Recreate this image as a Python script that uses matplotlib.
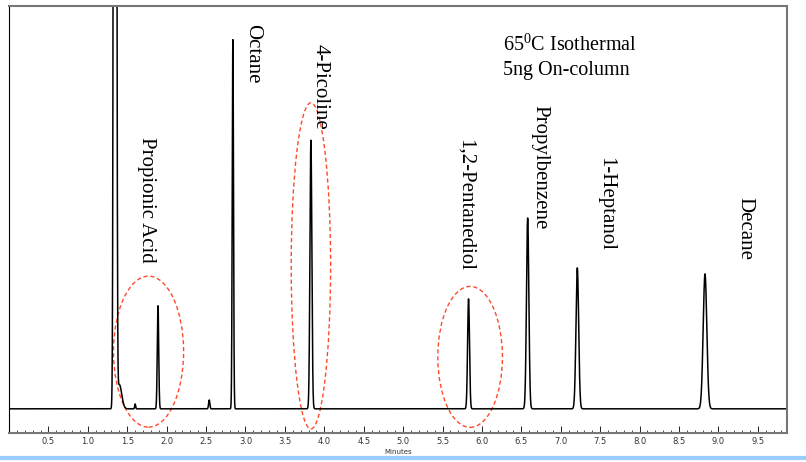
import numpy as np
import matplotlib.pyplot as plt
from matplotlib.patches import Ellipse
from matplotlib.ticker import MultipleLocator

plt.rcParams["mathtext.fontset"] = "custom"
plt.rcParams["mathtext.rm"] = "Liberation Serif"

# peak table: retention time (min), height, width (sigma, min)
rt = [1.345, 1.40, 1.60, 1.89, 2.54, 2.84, 3.83, 5.83, 6.58, 7.21, 8.83]
height = [1000, 6, 1.2, 25.6, 2.2, 91.8, 66.7, 27.3, 47.4, 35.0, 33.5]
sigma = [0.012, 0.03, 0.006, 0.009, 0.008, 0.008, 0.012, 0.012, 0.015, 0.017, 0.023]

names = ["Propionic Acid", "Octane", "4-Picoline", "1,2-Pentanediol",
         "Propylbenzene", "1-Heptanol", "Decane"]
name_x = [1.74, 3.09, 3.95, 5.79, 6.73, 7.57, 9.33]
name_y = [67.5, 95.5, 90.5, 67, 75.5, 62.5, 52.5]

# circled peaks: centre x, centre y, width, height
ell_x = [1.77, 3.83, 5.85]
ell_y = [14.2, 35.5, 12.9]
ell_w = [0.89, 0.50, 0.82]
ell_h = [37.5, 81, 35]

t = np.linspace(0, 9.87, 8000)
signal = np.zeros_like(t)
for r, h, s in zip(rt, height, sigma):
    signal += h * np.exp(-0.5 * ((t - r) / s) ** 2)

fig = plt.figure(figsize=(8.06, 4.62), dpi=100)
ax = fig.add_axes([0.0112, 0.0628, 0.9652, 0.924])
ax.plot(t, signal, color="black", lw=1.1)
ax.set_xlim(0, 9.87)
ax.set_ylim(-6, 100)

for x, y, w, h in zip(ell_x, ell_y, ell_w, ell_h):
    ax.add_patch(Ellipse((x, y), w, h, fill=False, ec="#ff4a2a", ls=(0, (3, 2)), lw=1))

for n, x, y in zip(names, name_x, name_y):
    ax.text(x, y, n, rotation=-90, ha="center", va="top",
            family="Liberation Serif", fontsize=15)

ax.text(6.27, 90.5, "65$^{\\mathrm{0}}$C Isothermal", family="Liberation Serif",
        fontsize=14.5, va="center")
ax.text(6.27, 84.0, "5ng On-column", family="Liberation Serif", fontsize=14.5,
        va="center")

ax.set_yticks([])
ax.xaxis.set_minor_locator(MultipleLocator(0.1))
ax.set_xticks(np.arange(0.5, 9.6, 0.5))
ax.set_xticklabels([f"{v:.1f}" for v in np.arange(0.5, 9.6, 0.5)], fontsize=6, color="#333333")
ax.tick_params(axis="x", which="major", direction="in", length=5, width=0.6, pad=3)
ax.tick_params(axis="x", which="minor", direction="in", length=2.5, width=0.5)
ax.set_xlabel("Minutes", fontsize=5, labelpad=2, color="#333333")

ax.spines["left"].set_color("black")
for side in ["top", "right", "bottom"]:
    ax.spines[side].set_color("#777777")
    ax.spines[side].set_linewidth(1.5)

fig.add_artist(plt.Line2D([0, 1], [0.009, 0.009], color="#99ccff", lw=3,
                          transform=fig.transFigure))

fig.savefig("out.png", dpi=100)
